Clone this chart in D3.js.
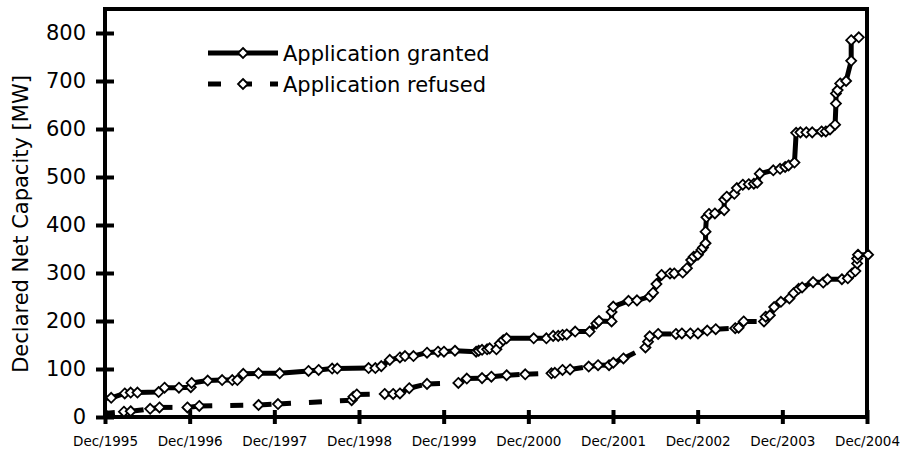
<!DOCTYPE html>
<html>
<head>
<meta charset="utf-8">
<script src="https://cdn.jsdelivr.net/npm/d3@7"></script>
<style>
  body { margin: 0; background: #fff; }
  text { font-family: "DejaVu Sans", Verdana, sans-serif; fill: #000; }
</style>
</head>
<body>
<svg id="chart" width="906" height="454"></svg>
<script>
// Cumulative declared net capacity (MW) by date of decision, in decimal years
const grantedDates = [1995.88, 1995.99, 1996.15, 1996.22, 1996.30, 1996.55, 1996.62, 1996.79, 1996.93, 1996.94,
  1997.13, 1997.30, 1997.42, 1997.48, 1997.55, 1997.73, 1997.98, 1998.32, 1998.44, 1998.60,
  1998.66, 1999.03, 1999.11, 1999.18, 1999.28, 1999.40, 1999.46, 1999.56, 1999.72, 1999.85,
  1999.92, 2000.05, 2000.30, 2000.33, 2000.37, 2000.43, 2000.46, 2000.54, 2000.58, 2000.62,
  2000.66, 2000.98, 2001.13, 2001.21, 2001.27, 2001.32, 2001.37, 2001.47, 2001.64, 2001.72,
  2001.75, 2001.90, 2001.90, 2001.92, 2002.10, 2002.20, 2002.35, 2002.39, 2002.43, 2002.49,
  2002.59, 2002.64, 2002.74, 2002.79, 2002.84, 2002.87, 2002.92, 2002.96, 2002.98, 2003.01,
  2003.01, 2003.02, 2003.05, 2003.12, 2003.23, 2003.23, 2003.26, 2003.35, 2003.38, 2003.45,
  2003.52, 2003.58, 2003.62, 2003.65, 2003.81, 2003.89, 2003.95, 2003.99, 2004.06, 2004.08,
  2004.13, 2004.20, 2004.27, 2004.38, 2004.43, 2004.48, 2004.54, 2004.55, 2004.55, 2004.57,
  2004.60, 2004.67, 2004.73, 2004.73, 2004.82];
const grantedValues = [38, 40, 49, 51, 51, 52, 61, 61, 62, 71,
  76, 77, 77, 77, 90, 91, 91, 96, 98, 101,
  101, 102, 102, 106, 119, 124, 127, 127, 134, 136,
  136, 138, 136, 138, 140, 141, 143, 141, 153, 160,
  164, 164, 164, 169, 169, 171, 172, 178, 178, 195,
  200, 199, 219, 230, 242, 243, 251, 259, 277, 296,
  299, 299, 301, 310, 327, 334, 338, 348, 353, 362,
  386, 416, 423, 424, 431, 453, 459, 465, 477, 484,
  485, 486, 488, 507, 514, 517, 521, 524, 530, 592,
  593, 593, 593, 595, 595, 599, 609, 653, 674, 681,
  695, 700, 742, 785, 791];

const refusedDates = [1995.88, 1996.14, 1996.22, 1996.45, 1996.56, 1996.89, 1997.03, 1997.73, 1997.96, 1998.83,
  1998.85, 1998.89, 1999.22, 1999.32, 1999.40, 1999.51, 1999.72, 2000.09, 2000.19, 2000.37,
  2000.48, 2000.66, 2000.88, 2001.19, 2001.23, 2001.32, 2001.41, 2001.63, 2001.74, 2001.87,
  2001.92, 2002.04, 2002.30, 2002.33, 2002.35, 2002.45, 2002.66, 2002.73, 2002.83, 2002.92,
  2003.03, 2003.13, 2003.36, 2003.40, 2003.46, 2003.70, 2003.72, 2003.77, 2003.82, 2003.90,
  2004.00, 2004.05, 2004.11, 2004.15, 2004.28, 2004.40, 2004.45, 2004.62, 2004.69, 2004.74,
  2004.78, 2004.80, 2004.80, 2004.81, 2004.93];
const refusedValues = [7, 11, 12, 17, 20, 20, 23, 25, 27, 35,
  42, 47, 48, 48, 49, 60, 69, 71, 80, 81,
  84, 87, 89, 91, 92, 98, 99, 105, 108, 108,
  113, 122, 145, 157, 168, 173, 173, 174, 174, 174,
  180, 183, 185, 186, 199, 199, 209, 212, 229, 240,
  247, 258, 267, 270, 281, 280, 287, 287, 289, 299,
  304, 320, 330, 338, 338];

const xTickYears = [1995, 1996, 1997, 1998, 1999, 2000, 2001, 2002, 2003, 2004];
const xTickLabels = ["Dec/1995", "Dec/1996", "Dec/1997", "Dec/1998", "Dec/1999",
  "Dec/2000", "Dec/2001", "Dec/2002", "Dec/2003", "Dec/2004"];
const yTicks = [0, 100, 200, 300, 400, 500, 600, 700, 800];
const seriesNames = ["Application granted", "Application refused"];

const svg = d3.select("#chart");
const plotLeft = 105, plotRight = 867, plotTop = 9, plotBottom = 417;
const december = yr => yr + 11 / 12;

const x = d3.scaleLinear().domain([december(1995), december(2004)]).range([plotLeft, plotRight]);
const y = d3.scaleLinear().domain([0, 850]).range([plotBottom, plotTop]);

const granted = grantedDates.map((d, i) => ({ t: d, v: grantedValues[i] }));
const refused = refusedDates.map((d, i) => ({ t: d, v: refusedValues[i] }));

// Plot frame
svg.append("rect")
  .attr("x", plotLeft).attr("y", plotTop)
  .attr("width", plotRight - plotLeft).attr("height", plotBottom - plotTop)
  .attr("fill", "none").attr("stroke", "#000").attr("stroke-width", 4);

// Y axis: labels and ticks crossing the axis line
const yAxisOut = svg.append("g").attr("transform", `translate(${plotLeft},0)`)
  .call(d3.axisLeft(y).tickValues(yTicks).tickSize(9).tickPadding(10).tickFormat(d3.format("d")));
const yAxisIn = svg.append("g").attr("transform", `translate(${plotLeft},0)`)
  .call(d3.axisRight(y).tickValues(yTicks).tickSize(9).tickFormat(""));
[yAxisOut, yAxisIn].forEach(g => {
  g.select(".domain").remove();
  g.selectAll(".tick line").attr("stroke", "#000").attr("stroke-width", 4);
});
yAxisOut.selectAll(".tick text").style("font-size", "21px").attr("fill", "#000")
  .style("font-family", "'DejaVu Sans', Verdana, sans-serif");

// X axis: December of each year
const xTickVals = xTickYears.map(december);
const xAxisOut = svg.append("g").attr("transform", `translate(0,${plotBottom})`)
  .call(d3.axisBottom(x).tickValues(xTickVals).tickSize(7).tickPadding(12)
    .tickFormat((d, i) => xTickLabels[i]));
const xAxisIn = svg.append("g").attr("transform", `translate(0,${plotBottom})`)
  .call(d3.axisTop(x).tickValues(xTickVals).tickSize(7).tickFormat(""));
[xAxisOut, xAxisIn].forEach(g => {
  g.select(".domain").remove();
  g.selectAll(".tick line").attr("stroke", "#000").attr("stroke-width", 4);
});
xAxisOut.selectAll(".tick text").style("font-size", "13.5px").attr("fill", "#000")
  .style("font-family", "'DejaVu Sans', Verdana, sans-serif");

// Y axis title
svg.append("text")
  .attr("transform", "translate(28,224) rotate(-90)")
  .attr("text-anchor", "middle")
  .style("font-size", "21px")
  .text("Declared Net Capacity [MW]");

// Series, clipped at the left axis
svg.append("clipPath").attr("id", "plotClip")
  .append("rect").attr("x", plotLeft + 2).attr("y", 0).attr("width", 906 - plotLeft).attr("height", 454);
const plot = svg.append("g").attr("clip-path", "url(#plotClip)");

const diamond = "M0,-5L5,0L0,5L-5,0Z";
const lineWidth = 5;
const markerStroke = 1.8;
const dashPattern = "13,18";

const line = d3.line().x(d => x(d.t)).y(d => y(d.v));
plot.append("path").datum(granted)
  .attr("d", line).attr("fill", "none")
  .attr("stroke", "#000").attr("stroke-width", lineWidth).attr("stroke-linejoin", "round");

// Refused: each segment restarts its own dash pattern
plot.append("g").selectAll("line").data(d3.pairs(refused)).join("line")
  .attr("x1", d => x(d[0].t)).attr("y1", d => y(d[0].v))
  .attr("x2", d => x(d[1].t)).attr("y2", d => y(d[1].v))
  .attr("stroke", "#000").attr("stroke-width", lineWidth)
  .attr("stroke-dasharray", dashPattern);

[granted, refused].forEach(series => {
  plot.append("g").selectAll("path").data(series).join("path")
    .attr("d", diamond)
    .attr("transform", d => `translate(${x(d.t)},${y(d.v)})`)
    .attr("fill", "#fff").attr("stroke", "#000").attr("stroke-width", markerStroke);
});

// Legend
const legend = svg.append("g");
const lx0 = 208, lx1 = 278, lmark = 243;
const rows = [{ y: 53, dashed: false }, { y: 84, dashed: true }];
rows.forEach((r, i) => {
  legend.append("line")
    .attr("x1", lx0).attr("x2", lx1).attr("y1", r.y).attr("y2", r.y)
    .attr("stroke", "#000").attr("stroke-width", lineWidth)
    .attr("stroke-dasharray", r.dashed ? dashPattern : null);
  legend.append("path").attr("d", diamond)
    .attr("transform", `translate(${lmark},${r.y})`)
    .attr("fill", "#fff").attr("stroke", "#000").attr("stroke-width", markerStroke);
  legend.append("text")
    .attr("x", 283).attr("y", r.y + 8)
    .style("font-size", "21px")
    .text(seriesNames[i]);
});
</script>
</body>
</html>
